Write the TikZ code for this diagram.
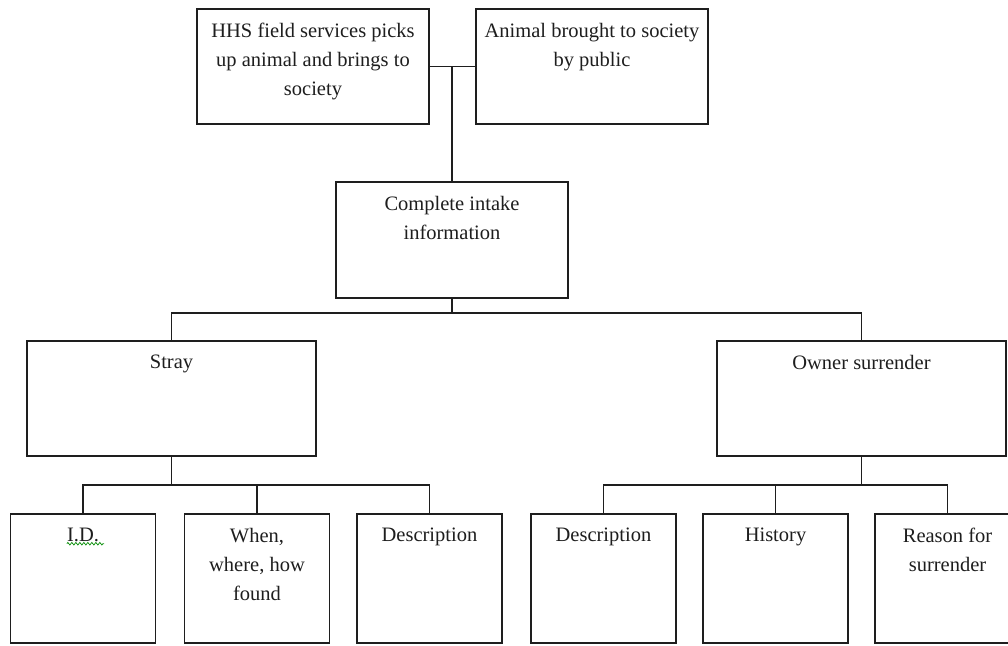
\documentclass[tikz,border=0pt]{standalone}
\usepackage{fontspec}
\setmainfont{Liberation Serif}
\usetikzlibrary{decorations.pathmorphing}
\definecolor{ink}{HTML}{1E1E1E}
\begin{document}
\begin{tikzpicture}[x=1pt,y=-1pt,
  box/.style={draw=ink,line width=1.8pt,minimum width=#1,inner sep=0pt,rectangle},
  big/.style={box=232pt,minimum height=115pt},
  mid/.style={box=289pt,minimum height=115pt},
  leaf/.style={box=145pt,minimum height=129pt},
  lbl/.style={anchor=north,inner sep=0pt,align=center,text=ink,
    font=\fontsize{20.5}{29}\selectfont,yshift=-14.5pt},
  wire/.style={draw=ink,line width=1.8pt}]
\useasboundingbox (0,0) rectangle (1008,645);
\clip (0,0) rectangle (1008,645);
\fill[white] (0,0) rectangle (1008,645);
% boxes
\node[big] (hhs) at (313,66.5) {};
\node[big] (pub) at (592,66.5) {};
\node[big,minimum height=116pt] (intake) at (452,240) {};
\node[mid] (stray) at (171.5,398.5) {};
\node[mid] (owner) at (861.5,398.5) {};
\node[leaf] (id) at (83,578.5) {};
\node[leaf] (when) at (257,578.5) {};
\node[leaf] (sdesc) at (429.5,578.5) {};
\node[leaf] (odesc) at (603.5,578.5) {};
\node[leaf] (hist) at (775.5,578.5) {};
\node[leaf] (reason) at (947.5,578.5) {};
% labels
\node[lbl] (thhs) at (hhs.north) {HHS field services picks\\up animal and brings to\\society};
\node[lbl] (tpub) at (pub.north) {Animal brought to society\\by public};
\node[lbl] (tintake) at (intake.north) {Complete intake\\information};
\node[lbl] (tstray) at (stray.north) {Stray};
\node[lbl] (towner) at (owner.north) {Owner surrender};
\node[lbl] (tid) at (id.north) {I.D.};
\node[lbl] (twhen) at (when.north) {When,\\where, how\\found};
\node[lbl] (tsdesc) at (sdesc.north) {Description};
\node[lbl] (todesc) at (odesc.north) {Description};
\node[lbl] (thist) at (hist.north) {History};
\node[lbl] (treason) at (reason.north) {Reason for\\surrender};
% spell-check squiggle
\draw[green!55!black,line width=0.7pt,decorate,
  decoration={zigzag,segment length=4pt,amplitude=1.3pt}]
  ([yshift=-2pt]tid.south west) -- ([xshift=5pt,yshift=-2pt]tid.south east);
% connectors
\coordinate (top) at (hhs.east -| intake.north);
\coordinate (bus) at ([yshift=-14pt]intake.south);
\coordinate (sbus) at ([yshift=-28pt]stray.south);
\coordinate (obus) at ([yshift=-28pt]owner.south);
\draw[wire] (hhs.east) -- (pub.west);
\draw[wire] (top) -- (intake.north);
\draw[wire] (intake.south) -- (bus);
\draw[wire] (stray.north) |- (bus) -| (owner.north);
\draw[wire] (stray.south) -- (sbus);
\draw[wire] (id.north) |- (sbus) -| (sdesc.north);
\draw[wire] (when.north) -- (when.north |- sbus);
\draw[wire] (owner.south) -- (obus);
\draw[wire] (odesc.north) |- (obus) -| (reason.north);
\draw[wire] (hist.north) -- (hist.north |- obus);
\end{tikzpicture}
\end{document}
